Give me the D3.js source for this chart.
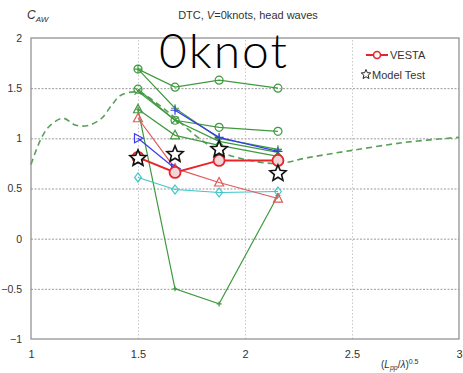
<!DOCTYPE html>
<html>
<head>
<meta charset="utf-8">
<script src="https://cdn.jsdelivr.net/npm/d3@7"></script>
<style>
  html, body { margin: 0; padding: 0; background: #fff; }
  svg { display: block; font-family: "Liberation Sans", Arial, sans-serif; }
</style>
</head>
<body>
<svg id="chart" width="463" height="373"></svg>
<script>
// Wave-number positions, (Lpp/λ)^0.5
const waveX = [1.5, 1.673, 1.879, 2.154];

// VESTA results and model test
const vesta = [0.81, 0.66, 0.78, 0.78];
const modelTest = [0.80, 0.84, 0.89, 0.65];

// Other participants' computations
const greenCircleA = [1.69, 1.51, 1.58, 1.50];
const greenCircleB = [1.49, 1.18, 1.11, 1.07];
const greenCross   = [1.47, 1.18, 0.97, 0.86];
const greenPlus    = [1.69, 1.30, 1.00, 0.89];
const greenTri     = [1.29, 1.03, 0.93, 0.82];
const greenDrop    = [1.29, -0.50, -0.65, 0.43];
const bluePlus     = [null, 1.28, 1.01, 0.87];
const blueTri      = [1.00, 0.70, null, null];
const redTri       = [1.20, 0.70, 0.56, 0.40];
const cyanDiamond  = [0.61, 0.49, 0.46, 0.47];

// Continuous curve (dashed)
const curveX = [1.0, 1.05, 1.09, 1.15, 1.21, 1.27, 1.33, 1.38, 1.42, 1.5, 1.6, 1.68, 1.78, 1.88, 2.0, 2.15, 2.3, 2.5, 2.75, 3.0];
const curveY = [0.74, 1.01, 1.13, 1.20, 1.13, 1.13, 1.20, 1.34, 1.43, 1.46, 1.33, 1.19, 1.01, 0.87, 0.79, 0.75, 0.81, 0.88, 0.96, 1.01];

// Axis ticks
const xTicks = [1, 1.5, 2, 2.5, 3];
const yTicks = [-1, -0.5, 0, 0.5, 1, 1.5, 2];

const svg = d3.select("#chart");
const x = d3.scaleLinear().domain([1, 3]).range([31, 459]);
const y = d3.scaleLinear().domain([-1, 2]).range([339, 38]);

const green = "#3f9a3f", blue = "#3a3af0", red = "#e8242a", cyan = "#3cc6cc", redThin = "#e05a5a";

// Grid lines
svg.append("g")
  .attr("transform", `translate(0,${y(-1)})`)
  .call(d3.axisBottom(x).tickValues([1.5, 2, 2.5]).tickSize(-(y(-1) - y(2))).tickFormat(""))
  .call(g => g.select(".domain").remove())
  .call(g => g.selectAll("line").attr("stroke", "#c8c8c8").attr("stroke-dasharray", "1.5,2"));

svg.append("g")
  .attr("transform", `translate(${x(1)},0)`)
  .call(d3.axisLeft(y).tickValues([-0.5, 0, 0.5, 1, 1.5]).tickSize(-(x(3) - x(1))).tickFormat(""))
  .call(g => g.select(".domain").remove())
  .call(g => g.selectAll("line").attr("stroke", "#9a9a9a").attr("stroke-dasharray", "2,1.5"));

// Frame
svg.append("rect")
  .attr("x", x(1)).attr("y", y(2))
  .attr("width", x(3) - x(1)).attr("height", y(-1) - y(2))
  .attr("fill", "none").attr("stroke", "#8a8a8a").attr("stroke-width", 1.2);

// Tick labels
svg.append("g")
  .attr("transform", `translate(0,${y(-1) + 8})`)
  .call(d3.axisBottom(x).tickValues(xTicks).tickSize(0).tickFormat(d3.format("")))
  .call(g => g.select(".domain").remove())
  .call(g => g.selectAll("text").attr("font-size", 11).attr("fill", "#333").attr("font-family", "Liberation Sans, Arial, sans-serif"));

svg.append("g")
  .attr("transform", `translate(22,0)`)
  .call(d3.axisLeft(y).tickValues(yTicks).tickSize(0).tickPadding(0).tickFormat(d3.format("")))
  .call(g => g.select(".domain").remove())
  .call(g => g.selectAll("text").attr("font-size", 10.5).attr("fill", "#333").attr("font-family", "Liberation Sans, Arial, sans-serif"));

// Titles
svg.append("text").attr("x", 248).attr("y", 19).attr("text-anchor", "middle")
  .attr("font-size", 11).attr("fill", "#333")
  .call(t => {
    t.append("tspan").text("DTC, ");
    t.append("tspan").attr("font-style", "italic").text("V");
    t.append("tspan").text("=0knots, head waves");
  });

svg.append("text").attr("x", 27).attr("y", 19).attr("fill", "#333").attr("font-style", "italic")
  .call(t => {
    t.append("tspan").attr("font-size", 12).text("C");
    t.append("tspan").attr("font-size", 8).attr("dy", 3).text("AW");
  });

svg.append("text").attr("x", 381).attr("y", 368).attr("fill", "#333").attr("font-size", 10)
  .call(t => {
    t.append("tspan").text("(");
    t.append("tspan").attr("font-style", "italic").text("L");
    t.append("tspan").attr("font-style", "italic").attr("font-size", 7).attr("dy", 2).text("pp");
    t.append("tspan").attr("dy", -2).text("/");
    t.append("tspan").attr("font-style", "italic").text("λ");
    t.append("tspan").text(")");
    t.append("tspan").attr("font-size", 7).attr("dy", -4).text("0.5");
  });

// Dashed curve
const curveLine = d3.line().x(d => x(d[0])).y(d => y(d[1])).curve(d3.curveCatmullRom.alpha(0.5));
svg.append("path").datum(d3.zip(curveX, curveY))
  .attr("d", curveLine).attr("fill", "none")
  .attr("stroke", "#5aa05a").attr("stroke-width", 1.6).attr("stroke-dasharray", "6,4");

// Marker shapes
const markerPath = {
  circle: r => `M${-r},0a${r},${r} 0 1,0 ${2*r},0a${r},${r} 0 1,0 ${-2*r},0`,
  tri: r => `M0,${-r}L${r*0.9},${r*0.7}L${-r*0.9},${r*0.7}Z`,
  triRight: r => `M${r},0L${-r*0.7},${-r*0.9}L${-r*0.7},${r*0.9}Z`,
  plus: r => `M${-r},0H${r}M0,${-r}V${r}`,
  cross: r => `M${-r},${-r}L${r},${r}M${r},${-r}L${-r},${r}`,
  diamond: r => `M0,${-r}L${r*0.75},0L0,${r}L${-r*0.75},0Z`,
  star: r => {
    let p = "";
    for (let i = 0; i < 10; i++) {
      const a = -Math.PI / 2 + i * Math.PI / 5;
      const rr = i % 2 === 0 ? r : r * 0.45;
      p += (i ? "L" : "M") + (rr * Math.cos(a)).toFixed(2) + "," + (rr * Math.sin(a)).toFixed(2);
    }
    return p + "Z";
  }
};

function drawSeries(values, opts) {
  const pts = values.map((v, i) => [waveX[i], v]).filter(d => d[1] !== null);
  const g = svg.append("g");
  if (opts.line !== false) {
    g.append("path").datum(pts)
      .attr("d", d3.line().x(d => x(d[0])).y(d => y(d[1])))
      .attr("fill", "none").attr("stroke", opts.color).attr("stroke-width", opts.width || 1.2);
  }
  g.selectAll("path.mk").data(pts).join("path").attr("class", "mk")
    .attr("transform", d => `translate(${x(d[0])},${y(d[1])})`)
    .attr("d", markerPath[opts.marker](opts.r || 4))
    .attr("fill", opts.fill || "none")
    .attr("stroke", opts.markerColor || opts.color)
    .attr("stroke-width", opts.mw || 1.2);
}

drawSeries(greenDrop,    { color: green, marker: "plus", r: 2.5 });
drawSeries(greenCircleA, { color: green, marker: "circle", r: 4 });
drawSeries(greenCircleB, { color: green, marker: "circle", r: 4 });
drawSeries(greenCross,   { color: green, marker: "cross", r: 3.5 });
drawSeries(greenPlus,    { color: green, marker: "plus", r: 4 });
drawSeries(greenTri,     { color: green, marker: "tri", r: 5 });
drawSeries(cyanDiamond,  { color: cyan, marker: "diamond", r: 4.5 });
drawSeries(redTri,       { color: redThin, marker: "tri", r: 5 });
drawSeries(blueTri,      { color: blue, marker: "triRight", r: 5 });
drawSeries(bluePlus,     { color: blue, marker: "plus", r: 4.5 });
drawSeries(vesta,        { color: red, marker: "circle", r: 5.5, width: 2, mw: 1.8, fill: "#f0d6d6" });
drawSeries(modelTest,    { color: "#111", marker: "star", r: 8.5, line: false, fill: "#fff", mw: 1.6 });

// Overlaid label
svg.append("text").attr("x", 159).attr("y", 68)
  .attr("font-size", 48).attr("font-weight", 300).attr("letter-spacing", 2)
  .attr("fill", "#000").attr("font-family", "Lato, 'Open Sans', 'Liberation Sans', sans-serif")
  .text("0knot");

// Legend
const lg = svg.append("g");
lg.append("line").attr("x1", 366).attr("x2", 388).attr("y1", 55).attr("y2", 55)
  .attr("stroke", red).attr("stroke-width", 2);
lg.append("path").attr("transform", "translate(377,55)").attr("d", markerPath.circle(3.5))
  .attr("fill", "#fff").attr("stroke", red).attr("stroke-width", 1.6);
lg.append("text").attr("x", 390).attr("y", 59).attr("font-size", 11).attr("fill", "#333").text("VESTA");
lg.append("path").attr("transform", "translate(366,74.5)").attr("d", markerPath.star(5))
  .attr("fill", "#fff").attr("stroke", "#222").attr("stroke-width", 1);
lg.append("text").attr("x", 372).attr("y", 79).attr("font-size", 11).attr("fill", "#333").text("Model Test");
</script>
</body>
</html>
